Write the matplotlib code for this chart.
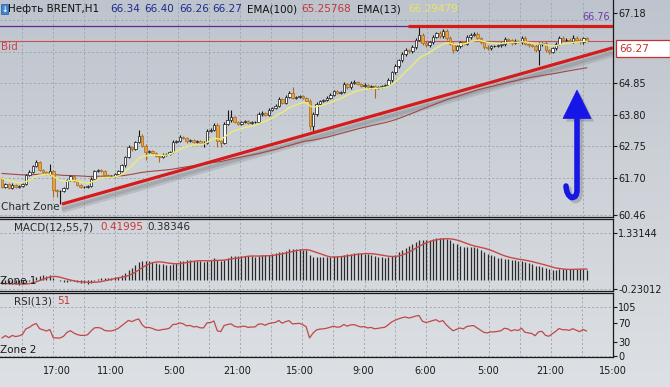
import numpy as np
import pandas as pd
import matplotlib
matplotlib.use("Agg")
import matplotlib.pyplot as plt
from matplotlib.path import Path
from matplotlib.patches import PathPatch, Polygon, Rectangle
from matplotlib.colors import LinearSegmentedColormap

# hourly closes of Brent
closes = [
    61.39, 61.49, 61.36, 61.46, 61.39, 61.42, 61.49, 61.79, 61.89, 62.09,
    62.22, 61.96, 61.89, 61.82, 61.92, 61.29, 61.26, 61.26, 61.36, 61.62,
    61.76, 61.59, 61.46, 61.39, 61.39, 61.42, 61.66, 61.92, 61.96, 61.92,
    61.79, 61.76, 61.76, 61.82, 61.92, 62.12, 62.39, 62.72, 62.66, 62.89,
    63.09, 62.76, 62.56, 62.59, 62.52, 62.42, 62.39, 62.46, 62.49, 62.56,
    62.89, 62.92, 63.06, 63.02, 62.92, 62.96, 62.89, 62.92, 62.86, 62.86,
    63.26, 63.29, 63.46, 62.92, 62.86, 63.49, 63.62, 63.72, 63.56, 63.49,
    63.56, 63.59, 63.52, 63.56, 63.56, 63.82, 63.86, 63.79, 63.96, 64.02,
    64.09, 64.32, 64.19, 64.39, 64.52, 64.36, 64.39, 64.42, 64.36, 64.26,
    63.42, 63.82, 64.16, 64.26, 64.29, 64.36, 64.46, 64.59, 64.52, 64.56,
    64.82, 64.72, 64.86, 64.89, 64.82, 64.76, 64.79, 64.72, 64.76, 64.69,
    64.72, 64.76, 64.79, 64.96, 65.22, 65.42, 65.62, 65.82, 65.96, 65.92,
    66.06, 66.29, 66.46, 66.19, 66.12, 66.22, 66.39, 66.52, 66.42, 66.59,
    66.36, 66.16, 65.96, 66.09, 66.22, 66.16, 66.39, 66.46, 66.49, 66.36,
    66.22, 66.06, 66.02, 66.09, 66.09, 66.12, 66.16, 66.32, 66.29, 66.19,
    66.26, 66.22, 66.36, 66.16, 66.12, 66.09, 65.96, 66.16, 66.19, 65.96,
    65.89, 66.02, 66.16, 66.36, 66.29, 66.29, 66.26, 66.36, 66.29, 66.22,
    66.34, 66.27,
]
first_open = 61.69

# wick lengths in cents above / below the body
upper_wick = [
    3, 4, 3, 5, 3, 4, 3, 4, 5, 4,
    7, 4, 3, 4, 25, 5, 4, 3, 4, 5,
    4, 3, 4, 3, 3, 4, 5, 4, 3, 4,
    4, 3, 3, 4, 3, 5, 4, 6, 5, 4,
    20, 6, 5, 4, 4, 3, 4, 5, 4, 4,
    6, 5, 5, 4, 3, 4, 4, 3, 4, 5,
    6, 5, 6, 5, 4, 8, 34, 24, 5, 4,
    4, 3, 4, 3, 4, 6, 5, 4, 5, 4,
    5, 6, 5, 6, 7, 20, 4, 4, 5, 4,
    5, 6, 5, 4, 4, 5, 5, 4, 4, 4,
    6, 5, 5, 6, 4, 4, 5, 4, 4, 4,
    4, 4, 4, 6, 5, 6, 5, 6, 5, 4,
    5, 6, 26, 6, 5, 5, 6, 5, 6, 7,
    6, 5, 5, 4, 5, 4, 6, 5, 6, 5,
    4, 4, 5, 4, 4, 5, 6, 7, 5, 4,
    5, 4, 6, 5, 4, 4, 5, 5, 4, 5,
    4, 5, 5, 7, 5, 6, 5, 8, 6, 5,
    5, 6,
]
lower_wick = [
    5, 4, 4, 3, 4, 3, 4, 3, 4, 4,
    4, 5, 4, 3, 4, 23, 20, 44, 5, 4,
    4, 4, 5, 4, 3, 4, 4, 3, 4, 4,
    4, 5, 4, 3, 4, 4, 5, 4, 6, 4,
    5, 4, 27, 5, 4, 4, 17, 4, 5, 4,
    4, 5, 4, 4, 5, 4, 4, 4, 5, 14,
    5, 5, 4, 20, 14, 5, 4, 5, 4, 5,
    4, 4, 4, 3, 4, 4, 5, 4, 4, 5,
    4, 5, 4, 5, 4, 5, 4, 4, 5, 4,
    13, 20, 5, 4, 5, 4, 5, 4, 4, 4,
    5, 6, 5, 4, 4, 5, 4, 6, 5, 33,
    4, 4, 5, 5, 6, 5, 6, 5, 6, 5,
    5, 6, 5, 7, 5, 5, 6, 5, 6, 5,
    6, 5, 10, 5, 6, 5, 5, 6, 5, 6,
    5, 6, 6, 5, 4, 5, 5, 6, 5, 6,
    5, 4, 6, 5, 6, 5, 6, 50, 6, 7,
    6, 5, 6, 5, 5, 4, 5, 6, 5, 5,
    5, 1,
]
# indicator starting states (history before the first visible bar)
ema13_seed = 61.72
ema100_seed = 61.85
macd_fast_seed = 61.55
macd_slow_seed = 61.62
rsi_gain_seed = 0.04
rsi_loss_seed = 0.04

price_ticks = [67.18, 64.85, 63.80, 62.75, 61.70, 60.46]
price_grid = [61.70, 62.75, 63.80, 64.85, 65.90, 66.95, 60.46]
macd_ticks = [1.33144, -0.23012]
rsi_ticks = [105, 70, 30, 0]
time_labels = ["17:00", "11:00", "5:00", "21:00", "15:00", "9:00", "6:00", "5:00", "21:00", "15:00"]
time_pos = [16.2, 31.9, 50.3, 68.7, 87.1, 105.6, 123.7, 142.1, 160.5, 178.7]

ask_price = 66.76
bid_price = 66.27
trend_start = (17.5, 60.82)
trend_end = (178.6, 66.03)
top_line_start = 118.7

n = len(closes)
x = np.arange(n)
closes = np.array(closes)
opens = np.array([first_open] + list(closes[:-1]))
highs = np.maximum(opens, closes) + np.array(upper_wick) / 100
lows = np.minimum(opens, closes) - np.array(lower_wick) / 100


def ema(values, span, seed):
    a = 2 / (span + 1)
    out, e = [], seed
    for v in values:
        e = e + a * (v - e)
        out.append(e)
    return np.array(out)


ema13 = ema(closes, 13, ema13_seed)
ema100 = ema(closes, 100, ema100_seed)
macd = ema(closes, 12, macd_fast_seed) - ema(closes, 55, macd_slow_seed)
signal = pd.Series(macd).rolling(7, min_periods=1).mean().values

# RSI(13), Wilder smoothing
rsi = []
g, l = rsi_gain_seed, rsi_loss_seed
prev = first_open
for c in closes:
    d = c - prev
    g = (g * 12 + max(d, 0)) / 13
    l = (l * 12 + max(-d, 0)) / 13
    rsi.append(100 - 100 / (1 + g / l))
    prev = c
rsi = np.array(rsi)

W, H = 670, 387
fig = plt.figure(figsize=(6.7, 3.87), dpi=100)
plt.rcParams['font.family'] = ['DejaVu Sans']


def fx(px):
    return px / W


def fy(py):
    return 1 - py / H


# background gradient
bg = fig.add_axes([0, 0, 1, 1], zorder=-10)
cmap = LinearSegmentedColormap.from_list("bg", ["#bec4cd", "#cfd3d9", "#dde0e4"])
bg.imshow(np.linspace(0, 1, 256).reshape(-1, 1), aspect="auto", cmap=cmap, extent=[0, 1, 0, 1])
bg.axis("off")

right = 612.7
ax = fig.add_axes([0, fy(216.7), fx(right), 216.7 / H])
ax_m = fig.add_axes([0, fy(290.7), fx(right), (290.7 - 219.3) / H])
ax_r = fig.add_axes([0, fy(356.7), fx(right), (356.7 - 293.3) / H])

xlim = (-2 / 3.42, (right - 2) / 3.42)
vgrid = 5.85 + 9.105 * np.arange(19)
dash = (0, (2.5, 2.5))
gcol = "#9ca2ac"

for a in (ax, ax_m, ax_r):
    a.set_facecolor("none")
    a.set_xlim(*xlim)
    for v in vgrid:
        a.axvline(v, color=gcol, lw=0.6, ls=dash, zorder=0)
    a.spines["left"].set_visible(False)
    for s in ("right", "top", "bottom"):
        a.spines[s].set_color("#1a1a1a")
        a.spines[s].set_linewidth(0.9)
    a.yaxis.tick_right()
    a.tick_params(axis="y", direction="out", length=3, width=0.8, pad=1,
                  labelsize=7, colors="#1a1a1a")
    a.tick_params(axis="x", length=0)
    a.set_xticks([])
ax.spines["top"].set_visible(False)

# main price panel
ax.set_ylim(60.40, 67.623)
ax.set_yticks(price_ticks)
ax.set_yticklabels([f"{p:.2f}" for p in price_ticks])
for p in price_grid:
    ax.axhline(p, color=gcol, lw=0.6, ls=dash, zorder=0)

ax.axhline(ask_price, color="#5a2a9a", lw=0.9, zorder=1)
ax.axhline(bid_price, color="#c85050", lw=0.8, zorder=1)

# trend line with shadow
tx = [trend_start[0], trend_end[0]]
ty = [trend_start[1], trend_end[1]]
ax.plot(tx, [v - 0.19 for v in ty], color="#707478", lw=5, alpha=0.22, zorder=1, solid_capstyle="butt")
ax.plot(tx, [v - 0.17 for v in ty], color="#80848a", lw=2.5, alpha=0.35, zorder=1, solid_capstyle="butt")
ax.plot(x, ema100, color="#a04848", lw=0.8, zorder=2)
ax.plot(tx, ty, color="#d41c1c", lw=2.3, zorder=5, solid_capstyle="butt")
ax.plot([top_line_start, xlim[1]], [ask_price, ask_price], color="#d41c1c", lw=2.3, zorder=5,
        solid_capstyle="butt")

up = closes >= opens
doji = np.abs(closes - opens) < 0.005
wick_col = np.where(up, "#151515", "#a86a1c")
wick_col = np.where(doji, "#151515", wick_col)
ax.vlines(x, lows, highs, colors=wick_col, lw=0.8, zorder=3)
face = np.where(up, "#ffffff", "#e8a23e")
edge = np.where(up, "#151515", "#a86a1c")
heights = np.maximum(np.abs(closes - opens), 0.012)
ax.bar(x, heights, bottom=np.minimum(opens, closes), width=0.72, color=face,
       edgecolor=edge, linewidth=0.5, zorder=4)
ax.plot(x, ema13, color="#ecec78", lw=1.0, zorder=4.5)

# MACD panel
ax_m.set_ylim(-0.287, 1.704)
ax_m.set_yticks(macd_ticks)
ax_m.set_yticklabels(["1.33144", "-0.23012"])
for p in macd_ticks:
    ax_m.axhline(p, color=gcol, lw=0.6, ls=dash, zorder=0)
ax_m.vlines(x, 0, macd, colors="#2a2a2a", lw=0.9, zorder=2)
ax_m.plot(x, signal, color="#c84848", lw=1.0, zorder=3)

# RSI panel
ax_r.set_ylim(-2.1, 133.7)
ax_r.set_yticks(rsi_ticks)
ax_r.set_yticklabels([str(v) for v in rsi_ticks])
for p in (105, 0):
    ax_r.axhline(p, color=gcol, lw=0.6, ls=dash, zorder=0)
ax_r.plot(x, rsi, color="#c04848", lw=0.9, zorder=3)
ax_r.set_xticks(time_pos)
ax_r.set_xticklabels(time_labels)
ax_r.tick_params(axis="x", length=0, pad=7, labelsize=7, colors="#1a1a1a")

# right-side price labels
fig.text(fx(610), fy(17.5), "66.76", color="#6a3aa8", fontsize=7, ha="right", va="center")
fig.add_artist(Rectangle((fx(616), fy(57)), fx(670) - fx(616), fy(40) - fy(57),
                         transform=fig.transFigure, facecolor="white", edgecolor="#c83030", lw=0.9))
fig.text(fx(619), fy(48.5), "66.27", color="#c83030", fontsize=7.5, ha="left", va="center")

# header line
fig.add_artist(Rectangle((fx(1), fy(14)), fx(7), fy(4) - fy(14), transform=fig.transFigure,
                         facecolor="#3f86d4", edgecolor="#2a5a9a", lw=0.5))
fig.text(fx(4.5), fy(9), "\u2193", color="white", fontsize=5.5, ha="center", va="center", weight="bold")
hdr = [(8.5, "Нефть BRENT,H1", "#101010"), (110, "66.34", "#1e2a8c"), (144, "66.40", "#1e2a8c"),
       (179, "66.26", "#1e2a8c"), (212, "66.27", "#1e2a8c"), (247, "EMA(100)", "#101010"),
       (301.5, "65.25768", "#c03838"), (357, "EMA(13)", "#101010"), (408, "66.29479", "#e8e466")]
for px, s, c in hdr:
    fig.text(fx(px), fy(9), s, color=c, fontsize=7.5, ha="left", va="center")

fig.text(fx(1), fy(47), "Bid", color="#c84848", fontsize=7.5, ha="left", va="center")
fig.text(fx(1), fy(207), "Chart Zone", color="#2a2a2a", fontsize=7.5, ha="left", va="center")
fig.text(fx(14), fy(227), "MACD(12,55,7)", color="#2a2a2a", fontsize=7.5, ha="left", va="center")
fig.text(fx(100), fy(227), "0.41995", color="#c83838", fontsize=7.5, ha="left", va="center")
fig.text(fx(147), fy(227), "0.38346", color="#2a2a2a", fontsize=7.5, ha="left", va="center")
fig.text(fx(0), fy(281), "Zone 1", color="#1a1a1a", fontsize=7.5, ha="left", va="center", zorder=10)
fig.text(fx(14), fy(301), "RSI(13)", color="#2a2a2a", fontsize=7.5, ha="left", va="center")
fig.text(fx(57), fy(301), "51", color="#c83838", fontsize=7.5, ha="left", va="center")
fig.text(fx(0), fy(350), "Zone 2", color="#1a1a1a", fontsize=7.5, ha="left", va="center")


# blue arrow (drawn in figure pixels)
def arrow_parts(dx, dy):
    head = [(577 + dx, 90 + dy), (563 + dx, 118.5 + dy), (591 + dx, 118.5 + dy)]
    shaft = [(577 + dx, 117 + dy), (577 + dx, 190 + dy), (577 + dx, 198 + dy),
             (571.5 + dx, 197.5 + dy), (566.5 + dx, 195 + dy), (566 + dx, 186 + dy)]
    head = [(fx(a), fy(b)) for a, b in head]
    shaft = [(fx(a), fy(b)) for a, b in shaft]
    codes = [Path.MOVETO, Path.LINETO, Path.CURVE3, Path.CURVE3, Path.CURVE3, Path.CURVE3]
    return head, Path(shaft, codes)


head, shaft = arrow_parts(3, 3)
fig.add_artist(Polygon(head, closed=True, transform=fig.transFigure, facecolor="#6a6e74",
                       edgecolor="none", alpha=0.35))
fig.add_artist(PathPatch(shaft, transform=fig.transFigure, facecolor="none", edgecolor="#6a6e74",
                         lw=4, alpha=0.35, capstyle="round"))
head, shaft = arrow_parts(0, 0)
fig.add_artist(PathPatch(shaft, transform=fig.transFigure, facecolor="none", edgecolor="#1616e6",
                         lw=4, capstyle="round"))
fig.add_artist(Polygon(head, closed=True, transform=fig.transFigure, facecolor="#1616e6",
                       edgecolor="#1616e6", lw=0.5))

fig.savefig("out.png", dpi=100)
